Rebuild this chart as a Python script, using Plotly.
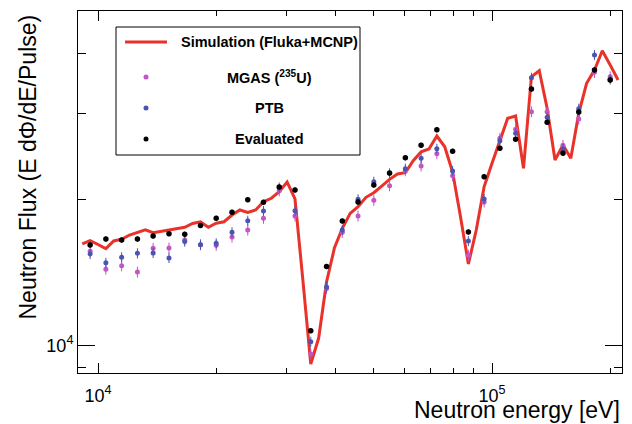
import plotly.graph_objects as go

# ---------------- data ----------------
# Simulation (Fluka+MCNP), energies in eV
sim_energy = [9120, 9550, 10000, 10470, 10960, 11480, 12020, 12590, 13180, 13800,
              14450, 15140, 15850, 16600, 17380, 18200, 19050, 19950, 20890, 21880,
              22910, 23990, 25120, 26300, 27540, 28840, 30200, 31620, 33110, 34670,
              36310, 38020, 39810, 41690, 43650, 45710, 47860, 50120, 52480, 54950,
              57540, 60260, 63100, 66070, 69180, 72440, 75860, 79430, 83180, 87100,
              91200, 95500, 100000, 104700, 109600, 114800, 120200, 125900, 131800, 138000,
              144500, 151400, 158500, 166000, 173800, 182000, 190500, 199500, 208900]
sim_flux = [16180, 16430, 16140, 15820, 16410, 16540, 16880, 17120, 17310, 17070,
            17170, 17330, 17410, 17510, 17830, 17980, 17510, 17850, 17980, 18560,
            19010, 18800, 19010, 19770, 20100, 20740, 21710, 20030, 13630, 9150,
            10350, 13510, 15870, 17430, 18710, 19310, 20190, 20640, 21300, 21990,
            22550, 22690, 24020, 25070, 25400, 27010, 25670, 22770, 18420, 14710,
            17290, 21230, 23730, 26500, 29380, 29700, 23170, 35790, 36830, 30810,
            24100, 25880, 24300, 30080, 34690, 36950, 40500, 37840, 35240]

# measured points (common energy grid)
meas_energy = [9550, 10470, 11480, 12590, 13800, 15140, 16600, 18200, 19950, 21880,
               23990, 26300, 28840, 31620, 34670, 38020, 41690, 45710, 50120, 54950,
               60260, 66070, 72440, 79430, 87100, 95500, 104700, 114800, 125900, 138000,
               151400, 166000, 182000, 199500]
mgas_flux = [15620, 14350, 14590, 14160, 15850, 15870, 16490, 16120, 16080, 16720,
             17290, 18280, 20830, 18480, 9595, 13100, 17100, 18480, 19900, 21330,
             22910, 23430, 24830, 22370, 15330, 19750, 26720, 27880, 30310, 30310,
             25840, 29280, 36550, 35790]
ptb_flux = [15430, 14800, 15190, 15480, 15500, 15140, 16370, 16120, 16230, 17100,
            18070, 18920, 21150, 18950, 10170, 13190, 17290, 20000, 21740, 22630,
            23130, 24300, 25430, 22880, 16410, 20030, 26420, 27360, 35620, 29520,
            25400, 30750, 39680, 35350]
eval_flux = [16100, 16560, 16490, 16560, 16800, 16990, 16940, 17660, 18280, 18800,
             19960, 19720, 21200, 20900, 10720, 14540, 18040, 19750, 21400, 22660,
             24370, 25840, 27830, 25120, 17120, 22270, 25480, 26590, 33760, 28830,
             24880, 30270, 36950, 35240]

legend_labels = ["Simulation (Fluka+MCNP)", "MGAS (<sup>235</sup>U)", "PTB", "Evaluated"]
x_tick_vals = [1e4, 1e5]
x_tick_text = ["10<sup>4</sup>", "10<sup>5</sup>"]
x_minor_vals = [2e4, 3e4, 4e4, 5e4, 6e4, 7e4, 8e4, 9e4, 2e5]
y_tick_vals = [1e4]
y_tick_text = ["10<sup>4</sup>"]
y_minor_vals = [9e3, 2e4, 3e4, 4e4]

RED = "#e8322a"
MAG = "#c455c4"
BLUE = "#4a55b0"
FONT = "Liberation Sans, Arial, Helvetica, sans-serif"

fig = go.Figure()
fig.add_trace(go.Scatter(x=sim_energy, y=sim_flux, mode="lines",
                         line=dict(color=RED, width=3), showlegend=False))
fig.add_trace(go.Scatter(x=meas_energy, y=mgas_flux, mode="markers",
                         marker=dict(color=MAG, size=5),
                         error_y=dict(type="percent", value=2.6, color=MAG, thickness=1, width=0),
                         showlegend=False))
fig.add_trace(go.Scatter(x=meas_energy, y=ptb_flux, mode="markers",
                         marker=dict(color=BLUE, size=5),
                         error_y=dict(type="percent", value=2.4, color=BLUE, thickness=1, width=0),
                         showlegend=False))
fig.add_trace(go.Scatter(x=meas_energy, y=eval_flux, mode="markers",
                         marker=dict(color="black", size=5.5),
                         error_y=dict(type="percent", value=1.2, color="black", thickness=1, width=0),
                         showlegend=False))

W, H = 632, 424
L, R, T, B = 78, 10, 11, 51
pw, ph = W - L - R, H - T - B


def px(xp):
    return (xp - L) / pw


def py(yp):
    return (H - B - yp) / ph


fig.update_layout(
    width=W, height=H,
    margin=dict(l=L, r=R, t=T, b=B, pad=0),
    paper_bgcolor="white", plot_bgcolor="white",
    font=dict(family=FONT, color="black"),
    showlegend=False,
    xaxis=dict(type="log", range=[3.9492, 5.3299], showgrid=False, zeroline=False,
               showline=True, linecolor="black", linewidth=1, mirror="ticks",
               ticks="inside", ticklen=10, tickwidth=1, tickcolor="black",
               tickmode="array", tickvals=x_tick_vals, ticktext=x_tick_text,
               tickfont=dict(size=18, family=FONT, color="black"),
               ticklabelstandoff=6,
               minor=dict(tickmode="array", tickvals=x_minor_vals, ticks="inside",
                          ticklen=5, tickwidth=1, tickcolor="black", showgrid=False)),
    yaxis=dict(type="log", range=[3.9429, 4.6893], showgrid=False, zeroline=False,
               showline=True, linecolor="black", linewidth=1, mirror="ticks",
               ticks="inside", ticklen=17, tickwidth=1, tickcolor="black",
               tickmode="array", tickvals=y_tick_vals, ticktext=y_tick_text,
               tickfont=dict(size=18, family=FONT, color="black"),
               minor=dict(tickmode="array", tickvals=y_minor_vals, ticks="inside",
                          ticklen=8, tickwidth=1, tickcolor="black", showgrid=False)),
)

# axis titles
fig.add_annotation(text="Neutron energy [eV]", xref="paper", yref="paper",
                   x=1, y=py(410), xanchor="right", yanchor="middle", showarrow=False,
                   font=dict(size=23, family=FONT, color="black"))
fig.add_annotation(text="Neutron Flux (E d\u03a6/dE/Pulse)", xref="paper", yref="paper",
                   x=px(27), y=py(13), xanchor="center", yanchor="top", textangle=-90,
                   showarrow=False, font=dict(size=23, family=FONT, color="black"))

# legend box
fig.add_shape(type="rect", xref="paper", yref="paper", x0=px(116), x1=px(360),
              y0=py(155), y1=py(27), line=dict(color="black", width=1), fillcolor="white",
              layer="above")
fig.add_shape(type="line", xref="paper", yref="paper", x0=px(125), x1=px(167),
              y0=py(42), y1=py(42), line=dict(color=RED, width=3), layer="above")
for yy, col in [(77, MAG), (108, BLUE), (139, "black")]:
    fig.add_shape(type="circle", xref="paper", yref="paper", xsizemode="pixel",
                  ysizemode="pixel", xanchor=px(146), yanchor=py(yy),
                  x0=-2.5, x1=2.5, y0=-2.5, y1=2.5, fillcolor=col,
                  line=dict(color=col, width=0), layer="above")
for yy, lab in zip([42, 77, 108, 139], legend_labels):
    fig.add_annotation(text="<b>" + lab + "</b>", xref="paper", yref="paper",
                       x=px(269), y=py(yy), xanchor="center", yanchor="middle",
                       showarrow=False, font=dict(size=14.5, family=FONT, color="black"))

fig.write_html("out.html", config={"displayModeBar": False},
               post_script="document.body.style.margin='0';document.body.style.overflow='hidden';")
